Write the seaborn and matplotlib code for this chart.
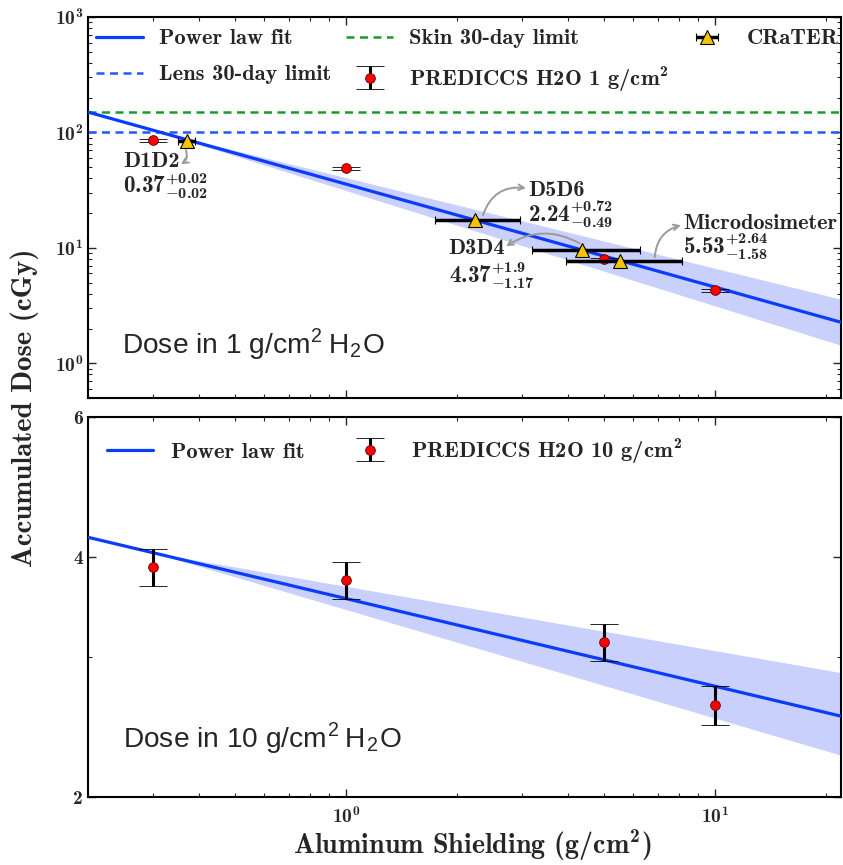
import numpy as np
import pandas as pd
import matplotlib
matplotlib.use("Agg")
import matplotlib.pyplot as plt
import seaborn as sns
from matplotlib.ticker import FixedLocator, FixedFormatter, NullFormatter

# ---------------- data ----------------
pred1_x = [0.3, 1.0, 5.0, 10.0]
pred1_y = [85.7, 49.0, 7.96, 4.28]
pred1_err = [2.5, 1.5, 0.25, 0.15]

crater_names = ["D1D2", "D5D6", "D3D4", "Microdosimeter"]
crater_x = [0.37, 2.24, 4.37, 5.53]
crater_xerr_lo = [0.02, 0.49, 1.17, 1.58]
crater_xerr_hi = [0.02, 0.72, 1.9, 2.64]
crater_y = [84.0, 17.3, 9.5, 7.66]
crater_labels = [r"$\mathbf{0.37}^{\mathbf{+0.02}}_{\mathbf{-0.02}}$",
                 r"$\mathbf{2.24}^{\mathbf{+0.72}}_{\mathbf{-0.49}}$",
                 r"$\mathbf{4.37}^{\mathbf{+1.9}}_{\mathbf{-1.17}}$",
                 r"$\mathbf{5.53}^{\mathbf{+2.64}}_{\mathbf{-1.58}}$"]

skin_limit = 150.0
lens_limit = 100.0

fit1_amp, fit1_exp = 35.7, -0.892
fit1_exp_up, fit1_exp_dn = 0.107, 0.107
pred10_x = [0.3, 1.0, 5.0, 10.0]
pred10_y = [3.89, 3.75, 3.13, 2.61]
pred10_err = [0.21, 0.20, 0.17, 0.145]
fit10_amp, fit10_exp = 3.55, -0.110
fit10_exp_up, fit10_exp_dn = 0.0293, 0.0263
band_pivot = 0.3

xlim = (0.2, 22.0)
top_ylim = (0.5, 1000.0)
bot_ylim = (2.0, 6.0)
bot_yticks = [2, 4, 6]
bot_yticklabels = ["2", "4", "6"]
bot_yminor = [3]

top_legend_labels = ["Power law fit", "Lens 30-day limit", "Skin 30-day limit",
                     r"PREDICCS H2O 1 g/cm$^2$", "CRaTER"]
bot_legend_labels = ["Power law fit", r"PREDICCS H2O 10 g/cm$^2$"]
dose1_text = r"Dose in 1 g/cm$^\mathregular{2}$$\,$H$_\mathregular{2}$O"
dose10_text = r"Dose in 10 g/cm$^\mathregular{2}$$\,$H$_\mathregular{2}$O"
xlabel_text = r"Aluminum Shielding (g/cm$^2$)"
ylabel_text = "Accumulated Dose (cGy)"

# ---------------- style ----------------
sns.set_style("ticks")
SERIF = ["cmb10", "DejaVu Serif"]
plt.rcParams["font.family"] = SERIF
plt.rcParams["mathtext.fontset"] = "custom"
plt.rcParams["mathtext.bf"] = "cmb10"
plt.rcParams["mathtext.rm"] = "cmb10"
plt.rcParams["mathtext.fallback"] = "cm"
plt.rcParams["mathtext.default"] = "bf"
plt.rcParams["axes.formatter.use_mathtext"] = True
plt.rcParams["axes.unicode_minus"] = False

FIT_C = "#0a3cff"
BAND_C = "#c9d0fb"
LENS_C = "#2358ff"
SKIN_C = "#1a9a2a"
DASH = (0, (3.2, 2.2))

W, H = 843, 865
fig = plt.figure(figsize=(W / 100, H / 100), dpi=100)
ax1 = fig.add_axes([88 / W, 1 - 398 / H, 753 / W, 381 / H])
ax2 = fig.add_axes([88 / W, 1 - 797 / H, 753 / W, 380 / H])
fig.canvas.draw()
R = fig.canvas.get_renderer()


def text_width(s, size, family):
    t = fig.text(0, 0, s, fontsize=size, family=family)
    w = t.get_window_extent(renderer=R).width
    t.remove()
    return w


def fit_size(s, target, family=SERIF):
    return 20.0 * target / text_width(s, 20.0, family)


xs = np.geomspace(xlim[0], xlim[1], 200)
xb = np.geomspace(band_pivot, xlim[1], 200)

# ---------- top panel ----------
ax1.fill_between(xb, fit1_amp * band_pivot**fit1_exp * (xb / band_pivot)**(fit1_exp + fit1_exp_up),
                 fit1_amp * band_pivot**fit1_exp * (xb / band_pivot)**(fit1_exp - fit1_exp_dn),
                 color=BAND_C, lw=0, zorder=1)
df1 = pd.DataFrame({"x": xs, "y": fit1_amp * xs**fit1_exp})
sns.lineplot(data=df1, x="x", y="y", ax=ax1, color=FIT_C, lw=2.3, zorder=3)
fit_h, = ax1.plot([], [], color=FIT_C, lw=2.3)
skin_h = ax1.axhline(skin_limit, color=SKIN_C, ls=DASH, lw=1.8, zorder=2)
lens_h = ax1.axhline(lens_limit, color=LENS_C, ls=DASH, lw=1.8, zorder=2)

pe1 = ax1.errorbar(pred1_x, pred1_y, yerr=pred1_err, fmt="o", color="red", mec="#600000",
                   mew=0.6, ms=7, ecolor="black", elinewidth=2.2, capsize=10, capthick=1.2,
                   zorder=5)
for cl in pe1[1]:
    cl.set_color("#555555")
ce = ax1.errorbar(crater_x, crater_y, xerr=[crater_xerr_lo, crater_xerr_hi], fmt="^",
                  color="#f5c400", mec="black", mew=0.8, ms=10, ecolor="black",
                  elinewidth=2.5, capsize=3, capthick=1.2, zorder=6)

ann_fs = fit_size("Microdosimeter", 154)
val_fs = fit_size(crater_labels[3], 85)
name_pos = [(0.249, 50.0, "left"), (3.116, 28.0, "left"), (2.70, 8.80, "right"), (8.20, 14.7, "left")]
val_pos = [(0.249, 29.8), (3.116, 16.8), (1.904, 4.93), (8.20, 8.92)]
arrows = [((0.3685, 70.2), (0.357, 53.1), -0.4), ((2.353, 19.2), (3.08, 32.9), -0.4),
          ((4.30, 10.96), (2.72, 10.3), 0.3), ((6.88, 8.29), (8.10, 15.7), -0.35)]
for nm, (px, py, ha), vt, (vx, vy), (tail, head, rad) in zip(crater_names, name_pos, crater_labels,
                                                           val_pos, arrows):
    ax1.text(px, py, nm, ha=ha, va="baseline", fontsize=ann_fs, zorder=7)
    ax1.text(vx, vy, vt, ha="left", va="baseline", fontsize=val_fs, zorder=7)
    ax1.annotate("", xy=head, xytext=tail,
                 arrowprops=dict(arrowstyle="->", color="#9a9a9a", lw=1.4,
                                 connectionstyle=f"arc3,rad={rad}", shrinkA=0, shrinkB=0),
                 zorder=7)

ax1.set_xscale("log")
ax1.set_yscale("log")
ax1.set_xlim(*xlim)
ax1.set_ylim(*top_ylim)
ax1.xaxis.set_major_formatter(NullFormatter())
ax1.xaxis.set_minor_formatter(NullFormatter())
ax1.set_xlabel("")
ax1.set_ylabel("")
dose_fs = fit_size(dose1_text, 263, "Liberation Sans")
ax1.text((122 - 88) / 753, (398 - 353) / 381, dose1_text, transform=ax1.transAxes,
         family="Liberation Sans", fontsize=dose_fs, ha="left", va="baseline")

# ---------- bottom panel ----------
ax2.fill_between(xb, fit10_amp * band_pivot**fit10_exp * (xb / band_pivot)**(fit10_exp + fit10_exp_up),
                 fit10_amp * band_pivot**fit10_exp * (xb / band_pivot)**(fit10_exp - fit10_exp_dn),
                 color=BAND_C, lw=0, zorder=1)
df2 = pd.DataFrame({"x": xs, "y": fit10_amp * xs**fit10_exp})
sns.lineplot(data=df2, x="x", y="y", ax=ax2, color=FIT_C, lw=2.3, zorder=3)
pe2 = ax2.errorbar(pred10_x, pred10_y, yerr=pred10_err, fmt="o", color="red", mec="#600000",
                   mew=0.6, ms=7, ecolor="black", elinewidth=2.2, capsize=10, capthick=1.2,
                   zorder=5)
for cl in pe2[1]:
    cl.set_color("#555555")
ax2.set_xscale("log")
ax2.set_yscale("log")
ax2.set_xlim(*xlim)
ax2.set_ylim(*bot_ylim)
ax2.yaxis.set_major_locator(FixedLocator(bot_yticks))
ax2.yaxis.set_major_formatter(FixedFormatter(bot_yticklabels))
ax2.yaxis.set_minor_locator(FixedLocator(bot_yminor))
ax2.yaxis.set_minor_formatter(NullFormatter())
ax2.set_ylabel("")
ax2.text((123 - 88) / 753, (797 - 747) / 380, dose10_text, transform=ax2.transAxes,
         family="Liberation Sans", fontsize=dose_fs, ha="left", va="baseline")

for ax in (ax1, ax2):
    ax.tick_params(which="both", direction="in", top=True, right=True, labelsize=14)
    ax.tick_params(which="major", length=6, width=1.0)
    ax.tick_params(which="minor", length=3, width=0.8)
    ax.tick_params(axis="x", which="major", pad=7)
    for s in ax.spines.values():
        s.set_linewidth(1.5)
        s.set_color("black")

xl_fs = fit_size(xlabel_text, 359)
ax2.set_xlabel(xlabel_text, fontsize=xl_fs)
ax2.xaxis.set_label_coords((472 - 88) / 753, (797 - 845) / 380)
ax2.xaxis.label.set_va("center")
yl_fs = fit_size(ylabel_text, 319)
fig.text(25 / W, 1 - 408 / H, ylabel_text, rotation=90, ha="center", va="center", fontsize=yl_fs)

# ---------- legends (sized / placed to the reference layout) ----------
leg_fs = fit_size("Power law fit", 134)
fpx = leg_fs * 100 / 72.0


def make_leg(ax, handles, labels, ncol, cs, ls, anchor, hl_px, htp_px):
    return ax.legend(handles, labels, ncol=ncol, loc="upper left", bbox_to_anchor=anchor,
                     bbox_transform=fig.transFigure, frameon=False, fontsize=leg_fs,
                     handlelength=hl_px / fpx, handletextpad=htp_px / fpx, columnspacing=cs,
                     labelspacing=ls, borderaxespad=0.0, borderpad=0.0)


def place_leg(ax, handles, labels, ncol, first_left, first_cy, col2_left, row_gap, hl_px, htp_px):
    cs, ls = 1.0, 0.5
    anchor = (first_left / W, 1 - (first_cy - 12) / H)
    leg = None
    for _ in range(3):
        if leg is not None:
            leg.remove()
        leg = make_leg(ax, handles, labels, ncol, cs, ls, anchor, hl_px, htp_px)
        fig.canvas.draw()
        ts = [t.get_window_extent(renderer=R) for t in leg.get_texts()]
        t0 = ts[0]
        c2 = ts[2] if ncol == 3 else ts[1]
        cs += (col2_left - c2.x0) / fpx
        if row_gap is not None:
            gap = (ts[0].y0 + ts[0].y1) / 2 - (ts[1].y0 + ts[1].y1) / 2
            ls += (row_gap - gap) / fpx
        dx = first_left - t0.x0
        dy = (H - first_cy) - (t0.y0 + t0.y1) / 2
        anchor = (anchor[0] + dx / W, anchor[1] + dy / H)
    leg.remove()
    leg = make_leg(ax, handles, labels, ncol, cs, ls, anchor, hl_px, htp_px)
    return leg


place_leg(ax1, [fit_h, lens_h, skin_h, pe1, ce], top_legend_labels, 3,
          159, 39, 409, 36, 47, 16)
place_leg(ax2, [fit_h, pe2], bot_legend_labels, 2, 171, 452, 411, None, 46, 18)

fig.savefig("out.png", dpi=100)
